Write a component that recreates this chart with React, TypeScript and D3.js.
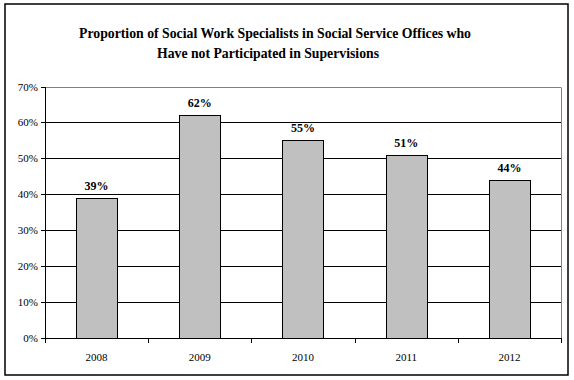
import React from "react";
import * as d3 from "d3";

const title1 = "Proportion of Social Work Specialists in Social Service Offices who";
const title2 = "Have not Participated in Supervisions";
const years = ["2008", "2009", "2010", "2011", "2012"];
const values = [39, 62, 55, 51, 44];
const yTicks = [0, 10, 20, 30, 40, 50, 60, 70];

const W = 574;
const H = 380;
const plot = { left: 45, right: 561, top: 86.5, bottom: 338 };
const font = "'Liberation Serif', 'Times New Roman', serif";

export default function App() {
  const x = d3
    .scaleBand<string>()
    .domain(years)
    .range([plot.left, plot.right])
    .paddingInner(0.6)
    .paddingOuter(0.3);
  const y = d3.scaleLinear().domain([0, 70]).range([plot.bottom, plot.top]);
  const step = x.step();
  const boundaries = d3.range(years.length + 1).map((i) => plot.left + i * step);

  return (
    <svg
      width={W}
      height={H}
      style={{ position: "absolute", left: 0, top: 0, background: "#fff" }}
      fontFamily={font}
    >
      <rect x={0} y={0} width={W} height={H} fill="#fff" />
      <rect x={5} y={4} width={563} height={371} fill="none" stroke="#000" strokeWidth={1.5} />
      <text
        x={275}
        y={38}
        textAnchor="middle"
        fontSize={14}
        fontWeight="bold"
        textLength={392}
        lengthAdjust="spacingAndGlyphs"
      >
        {title1}
      </text>
      <text
        x={268}
        y={58}
        textAnchor="middle"
        fontSize={14}
        fontWeight="bold"
        textLength={222}
        lengthAdjust="spacingAndGlyphs"
      >
        {title2}
      </text>
      {/* gridlines */}
      {yTicks.map((t) => (
        <line
          key={"g" + t}
          x1={plot.left}
          x2={plot.right}
          y1={Math.round(y(t)) + 0.5}
          y2={Math.round(y(t)) + 0.5}
          stroke={t === 70 ? "#808080" : "#000"}
          strokeWidth={1}
        />
      ))}
      {/* right border */}
      <line
        x1={plot.right + 0.5}
        x2={plot.right + 0.5}
        y1={Math.round(y(70)) + 0.5}
        y2={plot.bottom}
        stroke="#808080"
      />
      {/* bars */}
      {years.map((yr, i) => (
        <rect
          key={yr}
          x={Math.round(x(yr)!) + 0.5}
          y={Math.round(y(values[i])) + 0.5}
          width={Math.round(x.bandwidth())}
          height={Math.round(y(0)) - Math.round(y(values[i]))}
          fill="#c0c0c0"
          stroke="#000"
          strokeWidth={1}
        />
      ))}
      {/* value labels */}
      {years.map((yr, i) => (
        <text
          key={"l" + yr}
          x={x(yr)! + x.bandwidth() / 2}
          y={y(values[i]) - 8}
          textAnchor="middle"
          fontSize={12}
          fontWeight="bold"
        >
          {values[i] + "%"}
        </text>
      ))}
      {/* y axis */}
      <line
        x1={plot.left + 0.5}
        x2={plot.left + 0.5}
        y1={Math.round(y(70))}
        y2={plot.bottom + 1}
        stroke="#000"
      />
      {yTicks.map((t) => (
        <g key={"yt" + t}>
          <line
            x1={plot.left - 4}
            x2={plot.left}
            y1={Math.round(y(t)) + 0.5}
            y2={Math.round(y(t)) + 0.5}
            stroke="#000"
          />
          <text x={38} y={y(t) + 4} textAnchor="end" fontSize={11}>
            {t + "%"}
          </text>
        </g>
      ))}
      {/* x axis ticks */}
      {boundaries.map((b, i) => (
        <line
          key={"xt" + i}
          x1={Math.round(b) + 0.5}
          x2={Math.round(b) + 0.5}
          y1={plot.bottom}
          y2={plot.bottom + 5}
          stroke="#000"
        />
      ))}
      {years.map((yr) => (
        <text
          key={"xl" + yr}
          x={x(yr)! + x.bandwidth() / 2}
          y={361}
          textAnchor="middle"
          fontSize={11}
        >
          {yr}
        </text>
      ))}
    </svg>
  );
}
